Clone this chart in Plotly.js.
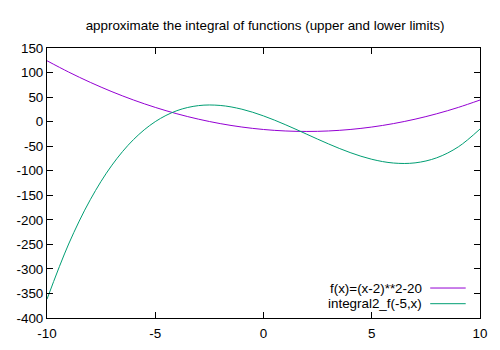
<!DOCTYPE html>
<html><head><meta charset="utf-8">
<script src="https://cdn.plot.ly/plotly-3.0.1.min.js"></script>
<style>html,body{margin:0;padding:0;background:#fff}#c{width:500px;height:350px}</style>
</head><body><div id="c"></div>
<script>
const xs = [-10,-9,-8,-7,-6,-5,-4,-3,-2,-1,0,1,2,3,4,5,6,7,8,9,10];
const fVals = [124,101,80,61,44,29,16,5,-4,-11,-16,-19,-20,-19,-16,-11,-4,5,16,29,44];
const intVals = [-361.67,-249.33,-159,-88.67,-36.33,0,22.33,32.67,33,25.33,11.67,-6,-25.67,-45.33,-63,-76.67,-84.33,-84,-73.67,-51.33,-15];
const seriesNames = ['f(x)=(x-2)**2-20','integral2_f(-5,x)'];
const colors = ['#9400d3','#009e73'];
const xTicks = [-10,-5,0,5,10];
const yTicks = [150,100,50,0,-50,-100,-150,-200,-250,-300,-350,-400];
const titleText = 'approximate the integral of functions (upper and lower limits)';

const font = {family:'Liberation Sans, Arial, sans-serif', size:13.4, color:'#000'};
const traces = [
  {x:xs, y:fVals, mode:'lines', line:{color:colors[0], width:1, shape:'spline'}, name:seriesNames[0], showlegend:false},
  {x:xs, y:intVals, mode:'lines', line:{color:colors[1], width:1, shape:'spline'}, name:seriesNames[1], showlegend:false}
];
const annotations = [];
const shapes = [];
const legY = [0.111, 0.053];
seriesNames.forEach((n,i)=>{
  annotations.push({xref:'paper', yref:'paper', x:0.871, y:legY[i], text:n, showarrow:false, xanchor:'right', yanchor:'middle', font:font});
  shapes.push({type:'line', xref:'paper', yref:'paper', x0:0.885, x1:0.967, y0:legY[i], y1:legY[i], line:{color:colors[i], width:1}});
});
const axBase = {showgrid:false, zeroline:false, showline:true, mirror:'ticks', linecolor:'#000', linewidth:1,
  ticks:'inside', ticklen:6, tickcolor:'#000', tickwidth:1, tickfont:font};
const layout = {
  width:500, height:350,
  margin:{l:47, r:20, t:48, b:32},
  paper_bgcolor:'#fff', plot_bgcolor:'#fff',
  title:{text:titleText, font:font, x:0.53, xanchor:'center', y:0.928, yanchor:'middle'},
  xaxis:Object.assign({}, axBase, {range:[-10,10], tickvals:xTicks, ticktext:xTicks.map(String), ticklabelstandoff:3}),
  yaxis:Object.assign({}, axBase, {range:[-400,150], tickvals:yTicks, ticktext:yTicks.map(String)}),
  annotations:annotations, shapes:shapes, showlegend:false
};
Plotly.newPlot('c', traces, layout, {staticPlot:true, displayModeBar:false});
</script></body></html>
